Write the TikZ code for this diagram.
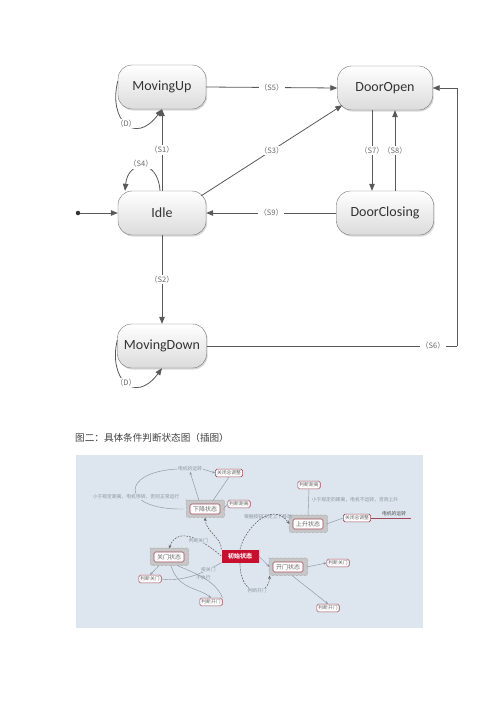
\documentclass[tikz,border=0pt]{standalone}
\usepackage{fontspec}
\newfontfamily\cjk{Noto Sans CJK SC}
\newfontfamily\carlito{Carlito}
\usetikzlibrary{arrows.meta,shadows,fit,decorations.pathmorphing}
\pgfdeclarelayer{bgzero}
\pgfdeclarelayer{bgone}
\pgfsetlayers{bgzero,bgone,main}
\definecolor{mmbg}{HTML}{DDE5EE}
\definecolor{mmline}{HTML}{8A96A4}
\definecolor{mmtext}{HTML}{8C96A2}
\definecolor{maroon}{HTML}{A04858}
\definecolor{initred}{HTML}{C8102E}
\begin{document}
\begin{tikzpicture}[x=1pt,y=-1pt,
  state/.style={rounded corners=14pt, draw=black!55, top color=white, bottom color=black!14,
    minimum height=44pt, inner sep=0pt, font=\carlito\fontsize{14}{16}\selectfont, text=black!80,
    drop shadow={opacity=0.3, shadow xshift=1.2pt, shadow yshift=-1.5pt}},
  conn/.style={draw=black!65, line width=0.8pt, -{Triangle[length=7pt,width=5.5pt]}},
  plain/.style={draw=black!65, line width=0.8pt},
  lbl/.style={font=\cjk\fontsize{7.5}{9}\selectfont, text=black!60, fill=white, inner sep=1pt},
  mm/.style={draw=mmline, line width=0.45pt},
  mmarrow/.style={mm, -{Stealth[length=3pt,width=2.5pt]}},
  mmdash/.style={draw=black!60, line width=0.6pt, dashed, dash pattern=on 1.8pt off 1.2pt, -{Stealth[length=3.5pt,width=3pt]}},
  mmbox/.style={draw=maroon, fill=white, rounded corners=1.5pt, line width=0.6pt, inner sep=1.6pt,
    font=\cjk\fontsize{4.8}{6}\selectfont, text=black!60},
  mmstate/.style={mmbox, font=\cjk\fontsize{6}{7}\selectfont, minimum width=30pt, minimum height=10pt, inner sep=1pt},
  mmtxt/.style={font=\cjk\fontsize{4.8}{6}\selectfont, text=mmtext, inner sep=0.5pt},
  wavy/.style={draw=black!30, line width=0.4pt, fill=black!22, decorate, decoration={snake, amplitude=0.5pt, segment length=4pt}, inner sep=3pt}
]
\useasboundingbox (0,0) rectangle (500,707);
\begin{pgfonlayer}{bgzero}
\fill[white] (0,0) rectangle (500,707);
\fill[mmbg] (76,455) rectangle (423,628);
\end{pgfonlayer}

% ---------- state diagram ----------
\node[state, minimum width=88pt] (mu) at (162,87) {MovingUp};
\node[state, minimum width=95pt] (do) at (385,88) {DoorOpen};
\node[state, minimum width=88pt] (idle) at (162,213) {Idle};
\node[state, minimum width=97pt] (dc) at (385,213) {DoorClosing};
\node[state, minimum width=89pt] (md) at (162,346) {MovingDown};

\node[circle, fill=black!80, inner sep=0pt, minimum size=4.5pt] (init) at (78,213) {};
\draw[conn] (init) -- (idle.west);

\draw[conn] (mu.east) -- node[lbl]{（S5）} (do.west);
\draw[conn] ([shift={(-5,5)}]idle.north east) -- node[lbl]{（S3）} ([shift={(5,-5)}]do.south west);
\draw[conn] (idle.north) -- node[lbl]{（S1）} (mu.south);
\draw[conn] ([shift={(-2,0)}]idle.north) .. controls (158,158) and (128,160) .. ([shift={(-37,0)}]idle.north);
\node[lbl] (s4) at (141,164) {（S4）};
\draw[conn] ([shift={(0,-6)}]mu.west) .. controls (108,120) and (135,146) .. node[lbl, pos=0.5]{（D）} (mu.south);
\draw[conn] ([shift={(0,-6)}]md.west) .. controls (108,379) and (135,405) .. node[lbl, pos=0.5]{（D）} (md.south);
\draw[conn] ([shift={(-13,0)}]do.south) -- node[lbl]{（S7）} ([shift={(-13,0)}]dc.north);
\draw[conn] ([shift={(10,0)}]dc.north) -- node[lbl]{（S8）} ([shift={(10,0)}]do.south);
\draw[conn] (dc.west) -- node[lbl]{（S9）} (idle.east);
\draw[conn] (idle.south) -- node[lbl]{（S2）} (md.north);
\coordinate (c6a) at (457,346);
\coordinate (c6b) at (457,88);
\draw[plain] (md.east) -- node[lbl, pos=0.904]{（S6）} (c6a);
\draw[conn] (c6a) -- (c6b) -- (do.east);

% ---------- caption ----------
\node[anchor=west, font=\cjk\fontsize{9.6}{11}\selectfont, text=black!75, inner sep=0pt] (cap) at (75,438) {图二：具体条件判断状态图（插图）};

% ---------- mind map ----------
\node[fill=initred, text=white, font=\cjk\bfseries\fontsize{6}{7}\selectfont, minimum width=37pt, minimum height=13pt, inner sep=0pt] (ini) at (240,556) {初始状态};
\node[mmstate] (down) at (205,509) {下降状态};
\node[mmstate] (up) at (308,524) {上升状态};
\node[mmstate] (close) at (169,557) {关门状态};
\node[mmstate] (open) at (288,567) {开门状态};
\begin{pgfonlayer}{bgone}
\node[wavy, fit=(down)] (fdown) {};
\node[wavy, fit=(up)] (fup) {};
\node[wavy, fit=(close)] (fclose) {};
\node[wavy, fit=(open)] (fopen) {};
\end{pgfonlayer}

\node[mmbox] (ctl1) at (229,473) {关闭总调整};
\node[mmtxt] (mot1) at (190,469) {电机的运转};
\node[mmbox] (dist1) at (239,504) {判断距离};
\node[mmtxt, fill=mmbg] (long1) at (136,497) {小于规定距离，电机停转，否则正常运行};
\node[mmbox] (dist2) at (309,485) {判断距离};
\node[mmtxt] (long2) at (355,500) {小于规定的距离，电机不运转，否则上升};
\node[mmbox] (ctl2) at (357,518) {关闭总调整};
\node[mmtxt, text=black!70] (mot2) at (394,514) {电机的运转};
\node[mmtxt] (btn) at (268,517) {根据按钮决定上下移动};
\node[mmbox] (jg1) at (150,579) {判断关门};
\node[mmbox] (jk1) at (211,602) {判断开门};
\node[mmbox] (jg2) at (338,563) {判断关门};
\node[mmbox] (jk2) at (328,608) {判断开门};

% connectors of the mind map
\begin{pgfonlayer}{bgone}
\draw[mm] (mot1.west) .. controls (120,472) and (120,510) .. ([shift={(-3,0)}]fdown.west);
\end{pgfonlayer}
\draw[mmarrow] ([shift={(-6,0)}]fdown.north) -- (mot1.south);
\draw[mmarrow] (mot1.east) -- (ctl1.west);
\draw[mm] ([shift={(8,0)}]fdown.north) -- (ctl1.south);
\draw[mm] (fdown.east) -- (dist1.west);
\draw[mm] (fup.north) -- (dist2.south);
\draw[mm] (fup.east) -- (ctl2.west);
\draw[draw=maroon, line width=0.9pt] (ctl2.east) -- (411,518);

\draw[mmdash] (ini.north west) .. controls (222,538) and (206,532) .. (fdown.south);
\draw[mmdash] (ini.north) .. controls (245,528) and (272,500) .. (fup.west);
\draw[mmdash] (ini.west) .. controls (205,542) and (178,524) .. node[mmtxt, fill=mmbg, pos=0.4]{判断关门} (fclose.north);
\draw[mmdash] (ini.south) .. controls (240,600) and (270,595) .. node[mmtxt, fill=mmbg, pos=0.55]{判断开门} (fopen.south west);
\draw[mmarrow] (ini.east) -- (fopen.west);
\draw[mm] (jg1.east) .. controls (185,582) and (205,572) .. node[mmtxt, fill=mmbg, pos=0.75]{按关门} (ini.south west);
\draw[mmarrow] ([shift={(-10,0)}]fclose.south) -- (jg1.north);
\draw[mmarrow] ([shift={(2,0)}]fclose.south) .. controls (178,590) and (200,588) .. (jk1.north);
\draw[mm] ([shift={(8,0)}]fclose.south) .. controls (200,575) and (216,582) .. node[mmtxt, pos=0.45]{不执行} (jk1.north east);
\draw[mmarrow] (fopen.east) -- (jg2.west);
\draw[mmarrow] ([shift={(4,0)}]fopen.south) -- (jk2.north);
\end{tikzpicture}
\end{document}
